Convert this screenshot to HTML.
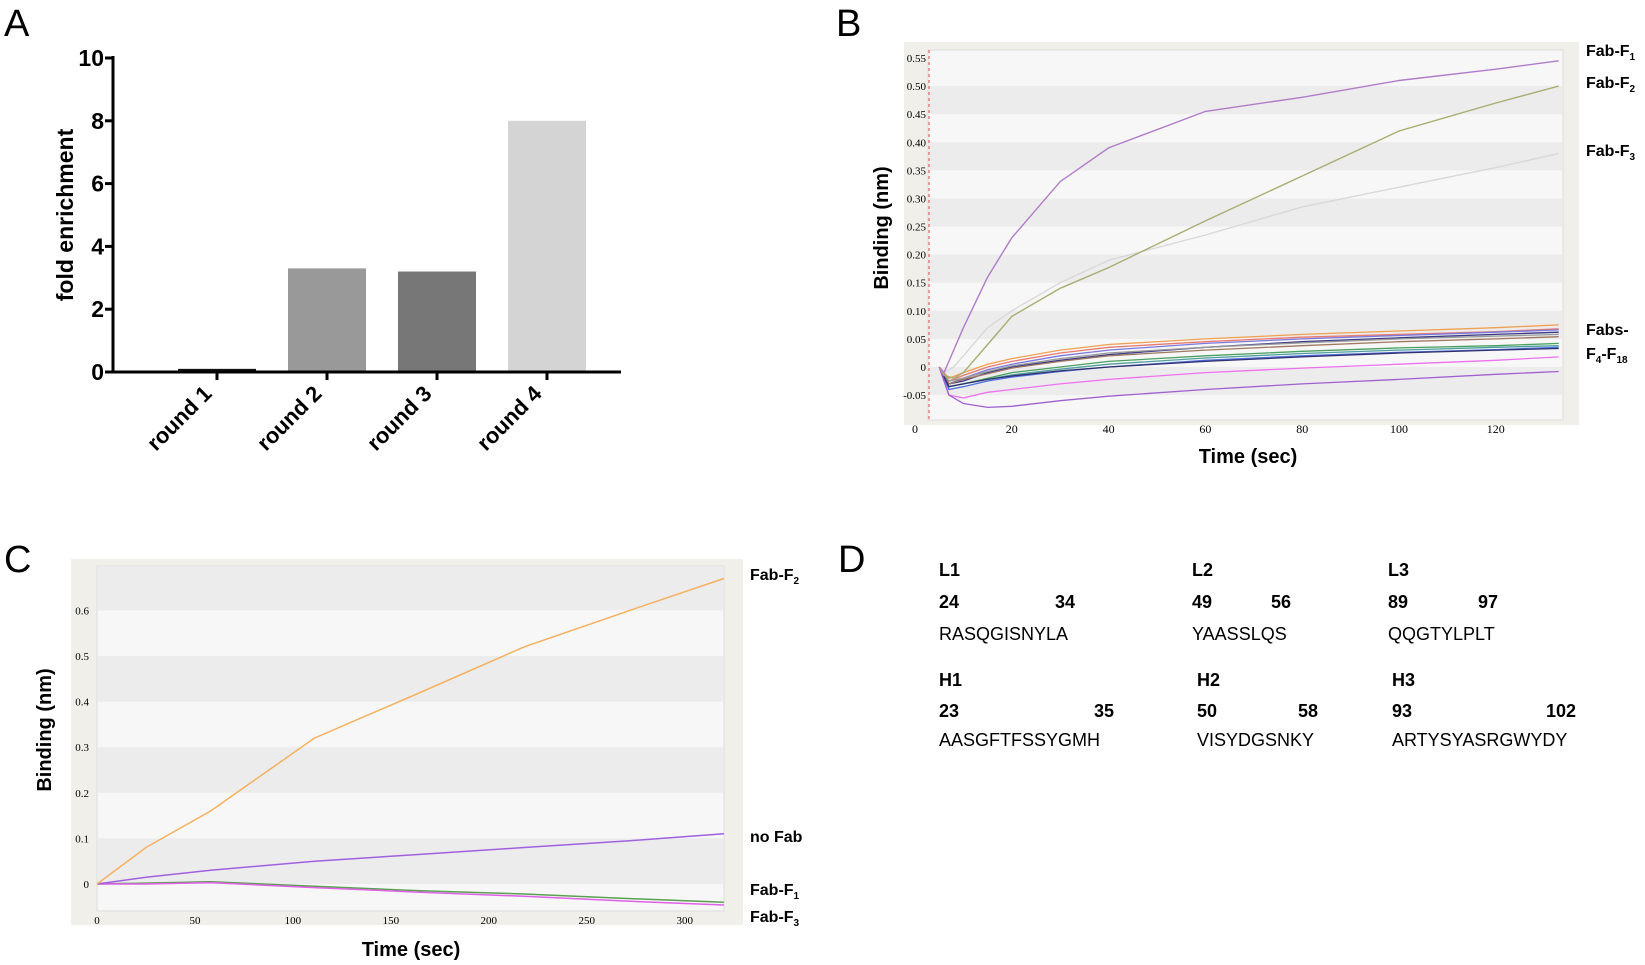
<!DOCTYPE html>
<html><head><meta charset="utf-8"><style>
html,body{margin:0;padding:0;background:#fff;}
svg{display:block;font-family:"Liberation Sans",sans-serif;}
.pl{font-size:38px;}
.d{font-size:18px;}
.db{font-size:18px;font-weight:bold;}
</style></head><body>
<svg id="fig" width="1645" height="965" viewBox="0 0 1645 965">
<text class="pl" x="4" y="36">A</text>
<text class="pl" x="836" y="36">B</text>
<text class="pl" x="4" y="572">C</text>
<text class="pl" x="838" y="572">D</text>
<g id="chartA"></g>
<g id="chartB"></g>
<g id="chartC"></g>
<g id="panelD">
<text class="db" x="939" y="576">L1</text><text class="db" x="1192" y="576">L2</text><text class="db" x="1388" y="576">L3</text>
<text class="db" x="939" y="608">24</text><text class="db" x="1055" y="608">34</text>
<text class="db" x="1192" y="608">49</text><text class="db" x="1271" y="608">56</text>
<text class="db" x="1388" y="608">89</text><text class="db" x="1478" y="608">97</text>
<text class="d" x="939" y="640">RASQGISNYLA</text><text class="d" x="1192" y="640">YAASSLQS</text><text class="d" x="1388" y="640">QQGTYLPLT</text>
<text class="db" x="939" y="686">H1</text><text class="db" x="1197" y="686">H2</text><text class="db" x="1392" y="686">H3</text>
<text class="db" x="939" y="717">23</text><text class="db" x="1094" y="717">35</text>
<text class="db" x="1197" y="717">50</text><text class="db" x="1298" y="717">58</text>
<text class="db" x="1392" y="717">93</text><text class="db" x="1546" y="717">102</text>
<text class="d" x="939" y="746">AASGFTFSSYGMH</text><text class="d" x="1197" y="746">VISYDGSNKY</text><text class="d" x="1392" y="746">ARTYSYASRGWYDY</text>
</g>
</svg>
<script>
// ---- Panel A data ----
const aCategories = ["round 1","round 2","round 3","round 4"];
const aValues = [0.1, 3.3, 3.2, 8.0];
const aTicks = [0,2,4,6,8,10];
const aColors = ["#111","#999","#777","#d4d4d4"];
// ---- Panel B data ----
const bTimesHi = [5,6,8,10,15,20,30,40,60,80,100,120,133];
const bF1 = [0,-0.01,0.03,0.07,0.16,0.23,0.33,0.39,0.455,0.48,0.51,0.53,0.545];
const bF2 = [0,-0.015,-0.02,-0.01,0.04,0.09,0.14,0.177,0.26,0.34,0.42,0.47,0.50];
const bF3 = [0,-0.01,0.0,0.02,0.07,0.10,0.15,0.19,0.235,0.285,0.32,0.355,0.38];
const bTimesLo = [5,7,10,15,20,30,40,60,80,100,120,133];
const bLo1 = [0,-0.02,-0.01,0.005,0.015,0.03,0.04,0.05,0.058,0.064,0.07,0.075];
const bLo2 = [0,-0.025,-0.015,0,0.01,0.025,0.035,0.045,0.053,0.058,0.063,0.068];
const bLo3 = [0,-0.03,-0.02,-0.005,0.005,0.02,0.03,0.042,0.05,0.056,0.062,0.066];
const bLo4 = [0,-0.03,-0.025,-0.01,0,0.012,0.022,0.035,0.045,0.052,0.058,0.062];
const bLo5 = [0,-0.025,-0.02,-0.008,0.002,0.015,0.025,0.035,0.043,0.05,0.055,0.058];
const bLo6 = [0,-0.03,-0.022,-0.012,-0.002,0.01,0.02,0.03,0.038,0.045,0.05,0.054];
const bLo7 = [0,-0.035,-0.03,-0.02,-0.01,0,0.01,0.02,0.028,0.034,0.038,0.042];
const bLo8 = [0,-0.035,-0.03,-0.022,-0.014,-0.004,0.005,0.016,0.024,0.03,0.035,0.038];
const bLo9 = [0,-0.04,-0.035,-0.025,-0.018,-0.008,0,0.012,0.02,0.026,0.031,0.035];
const bLo10 = [0,-0.035,-0.03,-0.022,-0.016,-0.007,0,0.01,0.018,0.025,0.03,0.033];
const bLoPink = [0,-0.05,-0.055,-0.045,-0.04,-0.03,-0.022,-0.01,-0.002,0.005,0.012,0.018];
const bLoPurple = [0,-0.05,-0.065,-0.072,-0.07,-0.06,-0.052,-0.04,-0.03,-0.022,-0.013,-0.008];
const bYTicks = [0.55,0.50,0.45,0.40,0.35,0.30,0.25,0.20,0.15,0.10,0.05,0,-0.05];
const bYTickLabels = ["0.55","0.50","0.45","0.40","0.35","0.30","0.25","0.20","0.15","0.10","0.05","0","-0.05"];
const bXTicks = [0,20,40,60,80,100,120];
// ---- Panel C data ----
const cTimes = [0,25,58,111,165,218,272,320];
const cF2 = [0,0.08,0.16,0.32,0.42,0.52,0.60,0.67];
const cNoFab = [0,0.015,0.03,0.05,0.065,0.08,0.095,0.11];
const cF1 = [0,0.002,0.005,-0.005,-0.015,-0.022,-0.032,-0.04];
const cF3 = [0,0.0,0.003,-0.008,-0.018,-0.027,-0.038,-0.046];
const cYTicks = [0.6,0.5,0.4,0.3,0.2,0.1,0];
const cXTicks = [0,50,100,150,200,250,300];

const NS="http://www.w3.org/2000/svg";
function mk(parent,tag,attrs,text){const e=document.createElementNS(NS,tag);for(const k in attrs)e.setAttribute(k,attrs[k]);if(text!==undefined)e.textContent=text;parent.appendChild(e);return e;}

// ===== Panel A =====
(function(){
const g=document.getElementById('chartA');
const yA=v=>372-v*31.4;
const xA=i=>217+i*110;
aTicks.forEach(t=>{
  const tk=mk(g,'line',{x1:105,x2:113,y1:yA(t),y2:yA(t),stroke:'#000','stroke-width':3});
  
  
  const lb=mk(g,'text',{x:104,y:yA(t)+8,'text-anchor':'end','font-size':23,'font-weight':'bold'},String(t));
  
  
});
aValues.forEach((v,i)=>{
  const b=mk(g,'rect',{x:xA(i)-39,y:yA(v),width:78,height:yA(0)-yA(v),fill:aColors[i]});
  
  
  const tk=mk(g,'line',{x1:xA(i),x2:xA(i),y1:372,y2:380,stroke:'#000','stroke-width':3});
  
  
  const lb=mk(g,'text',{x:xA(i)-4,y:395,'text-anchor':'end','font-size':22,'font-weight':'bold',transform:`rotate(-45 ${xA(i)-4} 395)`},aCategories[i]);
  
  
});
const ax=mk(g,'path',{d:'M113,56 V372 H621',fill:'none',stroke:'#000','stroke-width':3});


const yl=mk(g,'text',{x:73,y:215,'text-anchor':'middle','font-size':23,'font-weight':'bold',transform:'rotate(-90 73 215)'},'fold enrichment');


})();

function pathFor(ts,vs,xf,yf){return ts.map((t,i)=>(i?'L':'M')+xf(t).toFixed(1)+','+yf(vs[i]).toFixed(1)).join(' ');}

// ===== Panel B =====
(function(){
const g=document.getElementById('chartB');
const xB=t=>915+t*4.84;
const yB=v=>367-v*561.8;
const fr=mk(g,'rect',{x:904,y:42,width:675,height:383,fill:'#f1efe9'});


const pa=mk(g,'rect',{x:928,y:50,width:635,height:370,fill:'#f7f7f7',stroke:'#ddd'});


[0.5,0.4,0.3,0.2,0.1,0.0].forEach(u=>{
  const r=mk(g,'rect',{x:929,y:yB(u),width:633,height:yB(u-0.05)-yB(u),fill:'#ececec'});
  
  
});
const rl=mk(g,'line',{x1:929,x2:929,y1:50,y2:420,stroke:'#e05050','stroke-dasharray':'3,3'});


bYTicks.forEach((t,i)=>{
  const lb=mk(g,'text',{x:926,y:yB(t)+4,'text-anchor':'end','font-size':11,'font-family':'Liberation Serif, serif'},bYTickLabels[i]);
  
  
});
bXTicks.forEach(t=>{
  const lb=mk(g,'text',{x:xB(t),y:433,'text-anchor':'middle','font-size':12,'font-family':'Liberation Serif, serif'},String(t));
  
  
});
const lo=[[bLo1,'#f0a050'],[bLo2,'#e87a70'],[bLo3,'#7a7ae0'],[bLo4,'#3a3a8a'],[bLo5,'#9a9a9a'],[bLo6,'#a07860'],[bLo7,'#4aa060'],[bLo8,'#50a0a0'],[bLo9,'#5070e0'],[bLo10,'#303070'],[bLoPink,'#f070f0'],[bLoPurple,'#a060d0']];
lo.forEach(([vs,c])=>{
  const p=mk(g,'path',{d:pathFor(bTimesLo,vs,xB,yB),fill:'none',stroke:c,'stroke-width':1.3});
  
  
});
[[bF3,'#d8d8d8','series-fab-f3'],[bF2,'#a8ad72','series-fab-f2'],[bF1,'#b07cc8','series-fab-f1']].forEach(([vs,c,n])=>{
  const p=mk(g,'path',{d:pathFor(bTimesHi,vs,xB,yB),fill:'none',stroke:c,'stroke-width':1.4});
  
  
});
const labs=[['Fab-F','1',56],['Fab-F','2',88],['Fab-F','3',156]];
labs.forEach(([a,s,y])=>{
  const t=mk(g,'text',{x:1586,y:y,'font-size':16,'font-weight':'bold'});
  
  
  t.innerHTML=a+'<tspan font-size="10" dy="4">'+s+'</tspan>';
});
const t1=mk(g,'text',{x:1586,y:335,'font-size':16,'font-weight':'bold'},'Fabs-');


const t2=mk(g,'text',{x:1586,y:359,'font-size':16,'font-weight':'bold'});


t2.innerHTML='F<tspan font-size="10" dy="4">4</tspan><tspan dy="-4">-F</tspan><tspan font-size="10" dy="4">18</tspan>';
const yl=mk(g,'text',{x:888,y:228,'text-anchor':'middle','font-size':20,'font-weight':'bold',transform:'rotate(-90 888 228)'},'Binding (nm)');


const xl=mk(g,'text',{x:1248,y:463,'text-anchor':'middle','font-size':20,'font-weight':'bold'},'Time (sec)');


})();

// ===== Panel C =====
(function(){
const g=document.getElementById('chartC');
const xC=t=>97+t*1.959;
const yC=v=>884-v*456;
const fr=mk(g,'rect',{x:71,y:559,width:672,height:366,fill:'#f1efe9'});


const pa=mk(g,'rect',{x:97,y:566,width:627,height:345,fill:'#f7f7f7',stroke:'#ddd'});


[[0.72,0.6],[0.5,0.4],[0.3,0.2],[0.1,0]].forEach(([a,b])=>{
  const top=Math.max(yC(a),567);
  const r=mk(g,'rect',{x:98,y:top,width:625,height:yC(b)-top,fill:'#ececec'});
  
  
});
cYTicks.forEach(t=>{
  const lb=mk(g,'text',{x:89,y:yC(t)+4,'text-anchor':'end','font-size':11,'font-family':'Liberation Serif, serif'},String(t));
  
  
});
cXTicks.forEach(t=>{
  const lb=mk(g,'text',{x:xC(t),y:924,'text-anchor':'middle','font-size':11,'font-family':'Liberation Serif, serif'},String(t));
  
  
});
[[cF1,'#5aa050','series-fab-f1'],[cF3,'#e060e8','series-fab-f3'],[cNoFab,'#a060e0','series-no-fab'],[cF2,'#f5b060','series-fab-f2']].forEach(([vs,c,n])=>{
  const p=mk(g,'path',{d:pathFor(cTimes,vs,xC,yC),fill:'none',stroke:c,'stroke-width':1.5});
  
  
});
[['Fab-F','2',580],['Fab-F','1',895],['Fab-F','3',922]].forEach(([a,s,y])=>{
  const t=mk(g,'text',{x:750,y:y,'font-size':16,'font-weight':'bold'});
  
  
  t.innerHTML=a+'<tspan font-size="10" dy="4">'+s+'</tspan>';
});
const nf=mk(g,'text',{x:750,y:842,'font-size':16,'font-weight':'bold'},'no Fab');


const yl=mk(g,'text',{x:51,y:730,'text-anchor':'middle','font-size':20,'font-weight':'bold',transform:'rotate(-90 51 730)'},'Binding (nm)');


const xl=mk(g,'text',{x:411,y:956,'text-anchor':'middle','font-size':20,'font-weight':'bold'},'Time (sec)');


})();
</script>
</body></html>
